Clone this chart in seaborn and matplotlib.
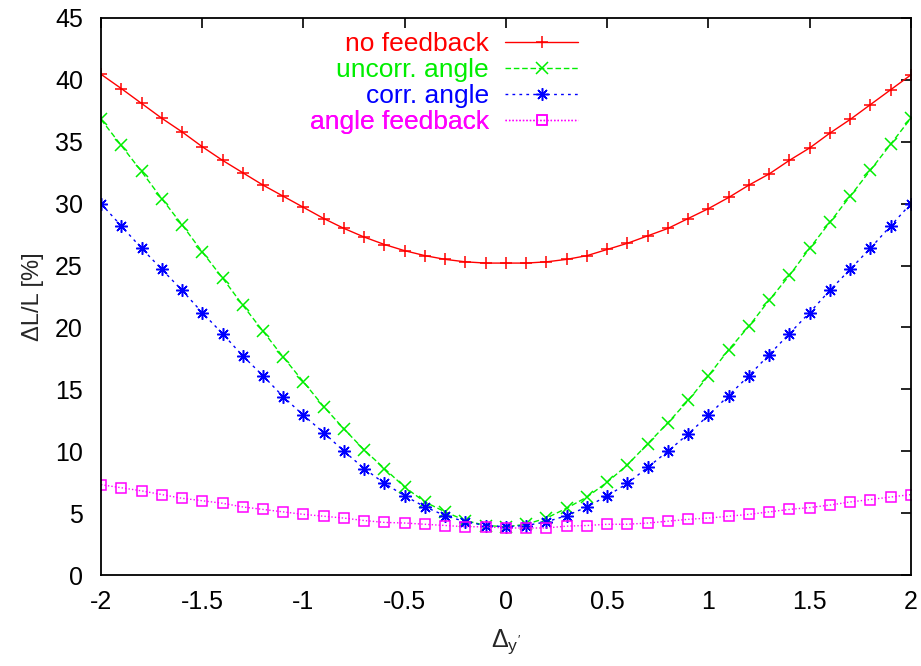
import numpy as np
import pandas as pd
import matplotlib
matplotlib.use("Agg")
import matplotlib.pyplot as plt
import seaborn as sns

# -------------------------------
# Data
# -------------------------------
dy = [-2.0, -1.9, -1.8, -1.7, -1.6, -1.5, -1.4, -1.3, -1.2, -1.1, -1.0,
      -0.9, -0.8, -0.7, -0.6, -0.5, -0.4, -0.3, -0.2, -0.1, 0.0,
      0.1, 0.2, 0.3, 0.4, 0.5, 0.6, 0.7, 0.8, 0.9, 1.0,
      1.1, 1.2, 1.3, 1.4, 1.5, 1.6, 1.7, 1.8, 1.9, 2.0]

no_feedback = [40.45, 39.3, 38.1, 36.9, 35.8, 34.6, 33.5, 32.5, 31.5, 30.6, 29.7,
               28.8, 28.0, 27.3, 26.7, 26.2, 25.8, 25.5, 25.3, 25.2, 25.2,
               25.2, 25.3, 25.5, 25.8, 26.3, 26.8, 27.4, 28.0, 28.8, 29.6,
               30.5, 31.5, 32.4, 33.5, 34.5, 35.7, 36.8, 38.0, 39.2, 40.4]

uncorr_angle = [36.8, 34.7, 32.6, 30.4, 28.3, 26.1, 24.0, 21.8, 19.7, 17.6, 15.6,
                13.6, 11.8, 10.1, 8.6, 7.1, 5.9, 5.1, 4.4, 4.0, 3.9,
                4.1, 4.6, 5.4, 6.3, 7.5, 8.9, 10.6, 12.3, 14.1, 16.1,
                18.2, 20.1, 22.2, 24.2, 26.4, 28.5, 30.6, 32.7, 34.8, 36.9]

corr_angle = [30.0, 28.2, 26.4, 24.7, 23.0, 21.2, 19.5, 17.7, 16.1, 14.4, 12.9,
              11.5, 10.0, 8.6, 7.4, 6.4, 5.5, 4.8, 4.3, 4.0, 3.9,
              4.0, 4.3, 4.8, 5.5, 6.4, 7.4, 8.7, 10.0, 11.4, 12.9,
              14.5, 16.1, 17.8, 19.5, 21.2, 23.0, 24.7, 26.4, 28.2, 30.0]

angle_feedback = [7.3, 7.05, 6.8, 6.5, 6.2, 6.0, 5.8, 5.5, 5.3, 5.1, 4.9,
                  4.75, 4.6, 4.4, 4.25, 4.2, 4.1, 4.0, 3.9, 3.9, 3.8,
                  3.8, 3.8, 3.95, 4.0, 4.1, 4.1, 4.2, 4.35, 4.5, 4.6,
                  4.75, 4.9, 5.1, 5.3, 5.45, 5.65, 5.9, 6.1, 6.3, 6.5]

series_labels = ["no feedback", "uncorr. angle", "corr. angle", "angle feedback"]
series_values = [no_feedback, uncorr_angle, corr_angle, angle_feedback]

xticks = [-2, -1.5, -1, -0.5, 0, 0.5, 1, 1.5, 2]
xtick_labels = ["-2", "-1.5", "-1", "-0.5", "0", "0.5", "1", "1.5", "2"]
yticks = [0, 5, 10, 15, 20, 25, 30, 35, 40, 45]

# -------------------------------
# Style
# -------------------------------
sns.set_style("white")
plt.rcParams["font.family"] = ["Liberation Sans", "DejaVu Sans"]
plt.rcParams["axes.unicode_minus"] = False
plt.rcParams["mathtext.fontset"] = "custom"
plt.rcParams["mathtext.rm"] = "Liberation Sans"
plt.rcParams["mathtext.it"] = "Liberation Sans"

colors = ["#ff0000", "#00ee00", "#0000ff", "#ff00ff"]
markers = ["+", "x", (8, 2, 0), "s"]
marker_sizes = [9, 8, 9, 7.5]
dash_styles = ["-", (0, (4, 2)), (0, (2, 3)), (0, (1, 1.5))]

fig, ax = plt.subplots(figsize=(9.21, 6.66), dpi=100)
fig.subplots_adjust(left=0.1097, right=0.989, bottom=0.1366, top=0.973)

df = pd.DataFrame({"dy": dy})
lines = []
for lab, vals, col, mk, ms, ls in zip(series_labels, series_values, colors,
                                      markers, marker_sizes, dash_styles):
    df[lab] = vals
    sns.lineplot(data=df, x="dy", y=lab, ax=ax, color=col, linewidth=1.0,
                 linestyle=ls, marker=mk, markersize=ms, markeredgewidth=1.1,
                 markerfacecolor="none", markeredgecolor=col)
    lines.append(ax.lines[-1])

ax.set_xlim(-2, 2)
ax.set_ylim(0, 45)
ax.set_xticks(xticks)
ax.set_xticklabels(xtick_labels)
ax.set_yticks(yticks)
ax.tick_params(direction="in", length=7, width=1.2, top=True, right=True,
               labelsize=18, colors="black")
ax.tick_params(axis="x", pad=11)
ax.tick_params(axis="y", pad=13)
for s in ax.spines.values():
    s.set_color("black")
    s.set_linewidth(1.3)

ax.set_xlabel(r"$\Delta_{y'}$", fontsize=18, labelpad=9)
ax.set_ylabel("ΔL/L [%]", fontsize=17, labelpad=8)

# -------------------------------
# Legend: right-aligned text, sample to the right
# -------------------------------
row_y = [0.953, 0.906, 0.860, 0.813]
for line, lab, col, yy in zip(lines, series_labels, colors, row_y):
    leg = ax.legend([line], [lab], loc="center right", bbox_to_anchor=(0.589, yy),
                    frameon=False, markerfirst=False, fontsize=19,
                    handlelength=2.75, handletextpad=0.62, borderpad=0,
                    borderaxespad=0, labelcolor=col, numpoints=1)
    ax.add_artist(leg)

plt.savefig("out.png", dpi=100)
plt.close()
